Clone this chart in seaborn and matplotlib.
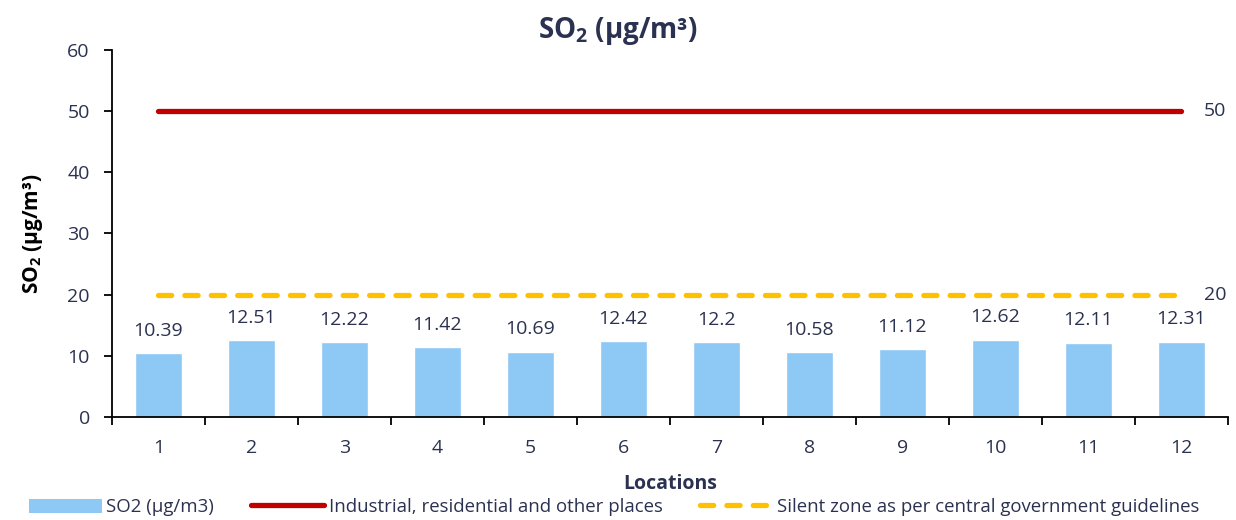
import numpy as np
import pandas as pd
import matplotlib
matplotlib.use("Agg")
import matplotlib.pyplot as plt
import seaborn as sns
from matplotlib.ticker import FixedLocator, NullFormatter
from matplotlib.patches import Patch
from matplotlib.lines import Line2D

locations = ["1", "2", "3", "4", "5", "6", "7", "8", "9", "10", "11", "12"]
so2_values = [10.39, 12.51, 12.22, 11.42, 10.69, 12.42, 12.2, 10.58, 11.12, 12.62, 12.11, 12.31]
industrial_limit = [50] * 12
silent_limit = [20] * 12
y_ticks = [0, 10, 20, 30, 40, 50, 60]

sns.set_theme(style="white")
plt.rcParams["font.family"] = ["Open Sans", "DejaVu Sans"]
plt.rcParams["mathtext.default"] = "regular"

TEXT = "#2b3150"
BAR = "#8ec8f4"
RED = "#c00000"
YELLOW = "#ffc000"
LW = 3.8
DASH = [2.5, 2.5]

df = pd.DataFrame({"Location": locations, "SO2": so2_values,
                   "Industrial": industrial_limit, "Silent": silent_limit})
df["pos"] = np.arange(len(locations))

fig = plt.figure(figsize=(12.36, 5.2), dpi=100)
ax = fig.add_axes([0.0906, 0.198, 0.9029, 0.706])

sns.barplot(data=df, x="Location", y="SO2", color=BAR, width=0.5,
            saturation=1, ax=ax, zorder=2)
sns.lineplot(data=df, x="pos", y="Industrial", color=RED, linewidth=LW,
             ax=ax, solid_capstyle="round", zorder=3)
sns.lineplot(data=df, x="pos", y="Silent", color=YELLOW, linewidth=LW,
             ax=ax, zorder=3)
ax.lines[-1].set_dashes(DASH)
ax.lines[-1].set_dash_capstyle("round")

# value labels above bars
for i, v in enumerate(so2_values):
    ax.text(i, v + 2.2, f"{v:g}", ha="center", va="bottom", fontsize=14, color=TEXT)

# guideline values at the right end
ax.text(11.24, industrial_limit[-1], str(industrial_limit[-1]), ha="left", va="center",
        fontsize=14, color=TEXT)
ax.text(11.24, silent_limit[-1], str(silent_limit[-1]), ha="left", va="center",
        fontsize=14, color=TEXT)

ax.set_xlim(-0.5, 11.5)
ax.set_ylim(0, 60)
ax.set_yticks(y_ticks)
ax.set_yticklabels([str(t) for t in y_ticks], fontsize=14, color=TEXT)

# x ticks between categories, labels centred on bars
ax.xaxis.set_major_locator(FixedLocator(np.arange(-0.5, 12, 1)))
ax.xaxis.set_major_formatter(NullFormatter())
ax.xaxis.set_minor_locator(FixedLocator(np.arange(12)))
ax.set_xticklabels(locations, minor=True, fontsize=14, color=TEXT)
ax.tick_params(axis="x", which="major", direction="out", length=6, width=1.3,
               color="black", bottom=True)
ax.tick_params(axis="x", which="minor", length=0, pad=16, bottom=True)
ax.tick_params(axis="y", direction="out", length=6, width=1.3, color="black",
               left=True, pad=10)

for s in ["top", "right"]:
    ax.spines[s].set_visible(False)
for s in ["left", "bottom"]:
    ax.spines[s].set_color("black")
    ax.spines[s].set_linewidth(1.3)

ax.set_xlabel("Locations", fontsize=14, fontweight="bold", color=TEXT, labelpad=12)
ax.set_ylabel("SO$_2$ (µg/m³)", fontsize=15, fontweight="bold", color="black", labelpad=16)
fig.suptitle("SO$_2$ (µg/m³)", x=0.5, y=0.972, va="top", fontsize=20,
             fontweight="bold", color=TEXT)

handles = [
    Patch(facecolor=BAR, edgecolor="none"),
    Line2D([0], [0], color=RED, linewidth=LW, solid_capstyle="round"),
    Line2D([0], [0], color=YELLOW, linewidth=LW, dashes=DASH,
           dash_capstyle="round"),
]
labels = ["SO2 (µg/m3)", "Industrial, residential and other places",
          "Silent zone as per central government guidelines"]
leg = fig.legend(handles, labels, loc="lower center", bbox_to_anchor=(0.497, -0.025),
                 ncol=3, frameon=False, fontsize=13.4, handlelength=3.9,
                 handletextpad=0.25, columnspacing=2.0, handleheight=0.8)
for t in leg.get_texts():
    t.set_color(TEXT)

fig.savefig("out.png", dpi=100)
